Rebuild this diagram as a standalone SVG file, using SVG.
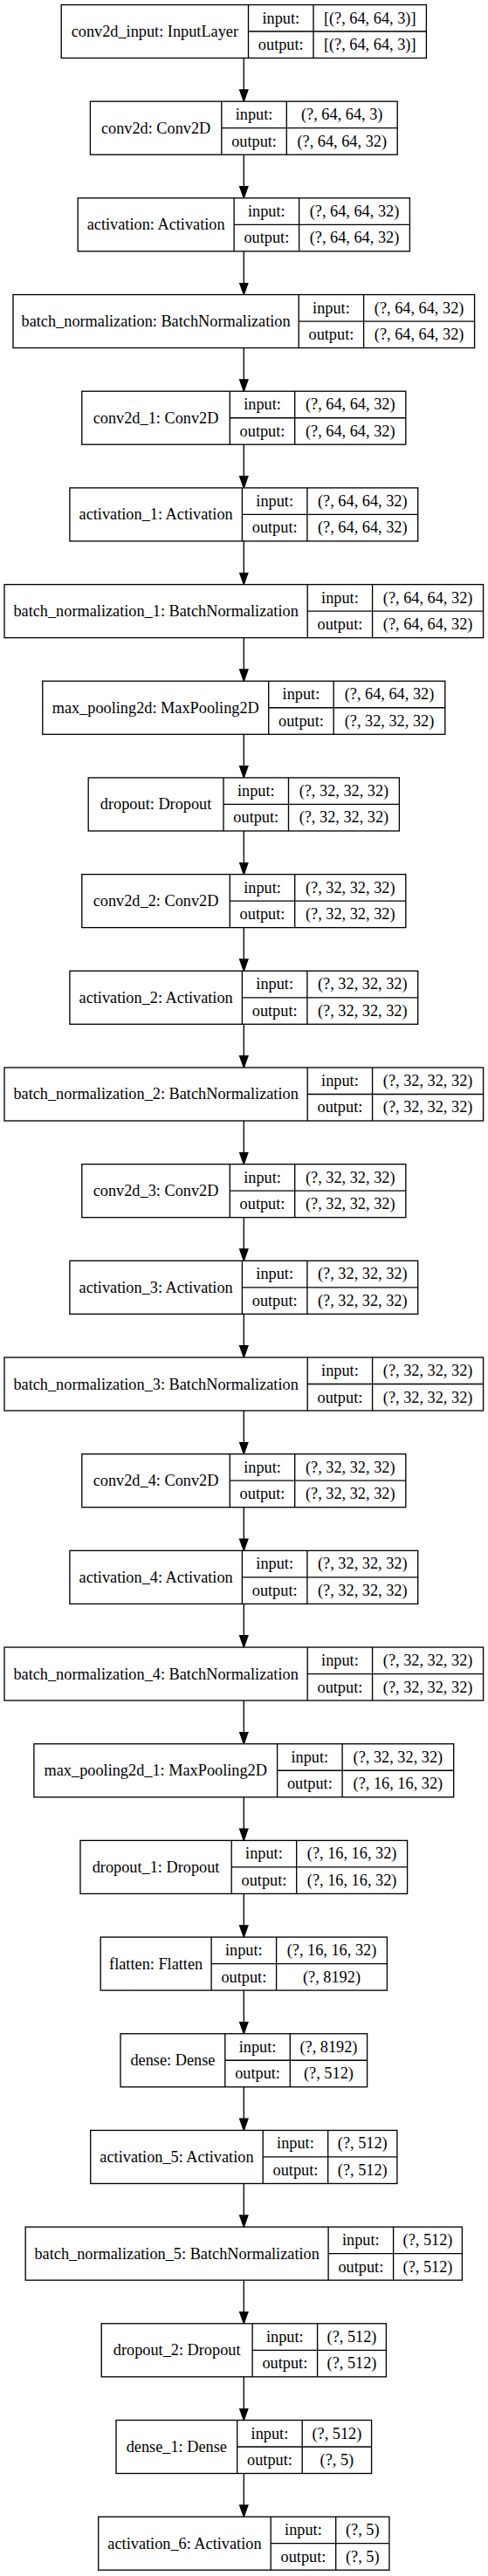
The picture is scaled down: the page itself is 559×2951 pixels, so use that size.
<svg xmlns="http://www.w3.org/2000/svg" width="559" height="2951" viewBox="0 0 559 2951">
<style>
.box{fill:#fff;stroke:#000;stroke-width:1.33}
.ln{stroke:#000;stroke-width:1.33;fill:none}
text{font-family:"Liberation Serif","Times New Roman",serif;font-size:18.3px;text-anchor:middle;fill:#000}
.edge{stroke:#000;stroke-width:1.33;fill:none;marker-end:url(#ah)}
</style>
<defs>
<marker id="ah" markerUnits="userSpaceOnUse" markerWidth="16" markerHeight="12" refX="14" refY="6" orient="auto" viewBox="0 0 16 12"><path d="M0.7,1.33 L14,6 L0.7,10.67 z" fill="#000" stroke="#000" stroke-width="1.33"/></marker>
</defs>
<rect x="0" y="0" width="559" height="2951" fill="#fff"/>
<g id="edges">
<line class="edge" x1="279.3" y1="66.5" x2="279.3" y2="116.18"/>
<line class="edge" x1="279.3" y1="177.18" x2="279.3" y2="226.86"/>
<line class="edge" x1="279.3" y1="287.86" x2="279.3" y2="337.54"/>
<line class="edge" x1="279.3" y1="398.54" x2="279.3" y2="448.22"/>
<line class="edge" x1="279.3" y1="509.22" x2="279.3" y2="558.9"/>
<line class="edge" x1="279.3" y1="619.9" x2="279.3" y2="669.58"/>
<line class="edge" x1="279.3" y1="730.58" x2="279.3" y2="780.26"/>
<line class="edge" x1="279.3" y1="841.26" x2="279.3" y2="890.94"/>
<line class="edge" x1="279.3" y1="951.94" x2="279.3" y2="1001.62"/>
<line class="edge" x1="279.3" y1="1062.62" x2="279.3" y2="1112.3"/>
<line class="edge" x1="279.3" y1="1173.3" x2="279.3" y2="1222.98"/>
<line class="edge" x1="279.3" y1="1283.98" x2="279.3" y2="1333.66"/>
<line class="edge" x1="279.3" y1="1394.66" x2="279.3" y2="1444.34"/>
<line class="edge" x1="279.3" y1="1505.34" x2="279.3" y2="1555.02"/>
<line class="edge" x1="279.3" y1="1616.02" x2="279.3" y2="1665.7"/>
<line class="edge" x1="279.3" y1="1726.7" x2="279.3" y2="1776.38"/>
<line class="edge" x1="279.3" y1="1837.38" x2="279.3" y2="1887.06"/>
<line class="edge" x1="279.3" y1="1948.06" x2="279.3" y2="1997.74"/>
<line class="edge" x1="279.3" y1="2058.74" x2="279.3" y2="2108.42"/>
<line class="edge" x1="279.3" y1="2169.42" x2="279.3" y2="2219.1"/>
<line class="edge" x1="279.3" y1="2280.1" x2="279.3" y2="2329.78"/>
<line class="edge" x1="279.3" y1="2390.78" x2="279.3" y2="2440.46"/>
<line class="edge" x1="279.3" y1="2501.46" x2="279.3" y2="2551.14"/>
<line class="edge" x1="279.3" y1="2612.14" x2="279.3" y2="2661.82"/>
<line class="edge" x1="279.3" y1="2722.82" x2="279.3" y2="2772.5"/>
<line class="edge" x1="279.3" y1="2833.5" x2="279.3" y2="2883.18"/>
</g>
<g id="n0" transform="translate(0,5.5)"><rect class="box" x="70.2" y="0" width="418.2" height="61"/><path class="ln" d="M284.5,0V61M359,0V61M284.5,30.5H488.4"/><text x="177.35" y="36.5">conv2d_input: InputLayer</text><text x="321.75" y="21">input:</text><text x="321.75" y="51.5">output:</text><text x="423.7" y="21">[(?, 64, 64, 3)]</text><text x="423.7" y="51.5">[(?, 64, 64, 3)]</text></g>
<g id="n1" transform="translate(0,116.18)"><rect class="box" x="103.4" y="0" width="351.8" height="61"/><path class="ln" d="M253.8,0V61M328.3,0V61M253.8,30.5H455.2"/><text x="178.6" y="36.5">conv2d: Conv2D</text><text x="291.05" y="21">input:</text><text x="291.05" y="51.5">output:</text><text x="391.75" y="21">(?, 64, 64, 3)</text><text x="391.75" y="51.5">(?, 64, 64, 32)</text></g>
<g id="n2" transform="translate(0,226.86)"><rect class="box" x="89.2" y="0" width="380.2" height="61"/><path class="ln" d="M268.1,0V61M342.6,0V61M268.1,30.5H469.4"/><text x="178.65" y="36.5">activation: Activation</text><text x="305.35" y="21">input:</text><text x="305.35" y="51.5">output:</text><text x="406" y="21">(?, 64, 64, 32)</text><text x="406" y="51.5">(?, 64, 64, 32)</text></g>
<g id="n3" transform="translate(0,337.54)"><rect class="box" x="15" y="0" width="528.6" height="61"/><path class="ln" d="M342.2,0V61M416.6,0V61M342.2,30.5H543.6"/><text x="178.6" y="36.5">batch_normalization: BatchNormalization</text><text x="379.4" y="21">input:</text><text x="379.4" y="51.5">output:</text><text x="480.1" y="21">(?, 64, 64, 32)</text><text x="480.1" y="51.5">(?, 64, 64, 32)</text></g>
<g id="n4" transform="translate(0,448.22)"><rect class="box" x="93.8" y="0" width="371" height="61"/><path class="ln" d="M263.3,0V61M337.7,0V61M263.3,30.5H464.8"/><text x="178.55" y="36.5">conv2d_1: Conv2D</text><text x="300.5" y="21">input:</text><text x="300.5" y="51.5">output:</text><text x="401.25" y="21">(?, 64, 64, 32)</text><text x="401.25" y="51.5">(?, 64, 64, 32)</text></g>
<g id="n5" transform="translate(0,558.9)"><rect class="box" x="79.9" y="0" width="398.8" height="61"/><path class="ln" d="M277.4,0V61M351.9,0V61M277.4,30.5H478.7"/><text x="178.65" y="36.5">activation_1: Activation</text><text x="314.65" y="21">input:</text><text x="314.65" y="51.5">output:</text><text x="415.3" y="21">(?, 64, 64, 32)</text><text x="415.3" y="51.5">(?, 64, 64, 32)</text></g>
<g id="n6" transform="translate(0,669.58)"><rect class="box" x="5" y="0" width="548.6" height="61"/><path class="ln" d="M352.2,0V61M426.6,0V61M352.2,30.5H553.6"/><text x="178.6" y="36.5">batch_normalization_1: BatchNormalization</text><text x="389.4" y="21">input:</text><text x="389.4" y="51.5">output:</text><text x="490.1" y="21">(?, 64, 64, 32)</text><text x="490.1" y="51.5">(?, 64, 64, 32)</text></g>
<g id="n7" transform="translate(0,780.26)"><rect class="box" x="48.8" y="0" width="461" height="61"/><path class="ln" d="M307.7,0V61M382.2,0V61M307.7,30.5H509.8"/><text x="178.25" y="36.5">max_pooling2d: MaxPooling2D</text><text x="344.95" y="21">input:</text><text x="344.95" y="51.5">output:</text><text x="446" y="21">(?, 64, 64, 32)</text><text x="446" y="51.5">(?, 32, 32, 32)</text></g>
<g id="n8" transform="translate(0,890.94)"><rect class="box" x="101.2" y="0" width="356.2" height="61"/><path class="ln" d="M256,0V61M330.5,0V61M256,30.5H457.4"/><text x="178.6" y="36.5">dropout: Dropout</text><text x="293.25" y="21">input:</text><text x="293.25" y="51.5">output:</text><text x="393.95" y="21">(?, 32, 32, 32)</text><text x="393.95" y="51.5">(?, 32, 32, 32)</text></g>
<g id="n9" transform="translate(0,1001.62)"><rect class="box" x="93.8" y="0" width="371" height="61"/><path class="ln" d="M263.3,0V61M337.7,0V61M263.3,30.5H464.8"/><text x="178.55" y="36.5">conv2d_2: Conv2D</text><text x="300.5" y="21">input:</text><text x="300.5" y="51.5">output:</text><text x="401.25" y="21">(?, 32, 32, 32)</text><text x="401.25" y="51.5">(?, 32, 32, 32)</text></g>
<g id="n10" transform="translate(0,1112.3)"><rect class="box" x="79.9" y="0" width="398.8" height="61"/><path class="ln" d="M277.4,0V61M351.9,0V61M277.4,30.5H478.7"/><text x="178.65" y="36.5">activation_2: Activation</text><text x="314.65" y="21">input:</text><text x="314.65" y="51.5">output:</text><text x="415.3" y="21">(?, 32, 32, 32)</text><text x="415.3" y="51.5">(?, 32, 32, 32)</text></g>
<g id="n11" transform="translate(0,1222.98)"><rect class="box" x="5" y="0" width="548.6" height="61"/><path class="ln" d="M352.2,0V61M426.6,0V61M352.2,30.5H553.6"/><text x="178.6" y="36.5">batch_normalization_2: BatchNormalization</text><text x="389.4" y="21">input:</text><text x="389.4" y="51.5">output:</text><text x="490.1" y="21">(?, 32, 32, 32)</text><text x="490.1" y="51.5">(?, 32, 32, 32)</text></g>
<g id="n12" transform="translate(0,1333.66)"><rect class="box" x="93.8" y="0" width="371" height="61"/><path class="ln" d="M263.3,0V61M337.7,0V61M263.3,30.5H464.8"/><text x="178.55" y="36.5">conv2d_3: Conv2D</text><text x="300.5" y="21">input:</text><text x="300.5" y="51.5">output:</text><text x="401.25" y="21">(?, 32, 32, 32)</text><text x="401.25" y="51.5">(?, 32, 32, 32)</text></g>
<g id="n13" transform="translate(0,1444.34)"><rect class="box" x="79.9" y="0" width="398.8" height="61"/><path class="ln" d="M277.4,0V61M351.9,0V61M277.4,30.5H478.7"/><text x="178.65" y="36.5">activation_3: Activation</text><text x="314.65" y="21">input:</text><text x="314.65" y="51.5">output:</text><text x="415.3" y="21">(?, 32, 32, 32)</text><text x="415.3" y="51.5">(?, 32, 32, 32)</text></g>
<g id="n14" transform="translate(0,1555.02)"><rect class="box" x="5" y="0" width="548.6" height="61"/><path class="ln" d="M352.2,0V61M426.6,0V61M352.2,30.5H553.6"/><text x="178.6" y="36.5">batch_normalization_3: BatchNormalization</text><text x="389.4" y="21">input:</text><text x="389.4" y="51.5">output:</text><text x="490.1" y="21">(?, 32, 32, 32)</text><text x="490.1" y="51.5">(?, 32, 32, 32)</text></g>
<g id="n15" transform="translate(0,1665.7)"><rect class="box" x="93.8" y="0" width="371" height="61"/><path class="ln" d="M263.3,0V61M337.7,0V61M263.3,30.5H464.8"/><text x="178.55" y="36.5">conv2d_4: Conv2D</text><text x="300.5" y="21">input:</text><text x="300.5" y="51.5">output:</text><text x="401.25" y="21">(?, 32, 32, 32)</text><text x="401.25" y="51.5">(?, 32, 32, 32)</text></g>
<g id="n16" transform="translate(0,1776.38)"><rect class="box" x="79.9" y="0" width="398.8" height="61"/><path class="ln" d="M277.4,0V61M351.9,0V61M277.4,30.5H478.7"/><text x="178.65" y="36.5">activation_4: Activation</text><text x="314.65" y="21">input:</text><text x="314.65" y="51.5">output:</text><text x="415.3" y="21">(?, 32, 32, 32)</text><text x="415.3" y="51.5">(?, 32, 32, 32)</text></g>
<g id="n17" transform="translate(0,1887.06)"><rect class="box" x="5" y="0" width="548.6" height="61"/><path class="ln" d="M352.2,0V61M426.6,0V61M352.2,30.5H553.6"/><text x="178.6" y="36.5">batch_normalization_4: BatchNormalization</text><text x="389.4" y="21">input:</text><text x="389.4" y="51.5">output:</text><text x="490.1" y="21">(?, 32, 32, 32)</text><text x="490.1" y="51.5">(?, 32, 32, 32)</text></g>
<g id="n18" transform="translate(0,1997.74)"><rect class="box" x="38.9" y="0" width="480.8" height="61"/><path class="ln" d="M317.6,0V61M392.1,0V61M317.6,30.5H519.7"/><text x="178.25" y="36.5">max_pooling2d_1: MaxPooling2D</text><text x="354.85" y="21">input:</text><text x="354.85" y="51.5">output:</text><text x="455.9" y="21">(?, 32, 32, 32)</text><text x="455.9" y="51.5">(?, 16, 16, 32)</text></g>
<g id="n19" transform="translate(0,2108.42)"><rect class="box" x="92" y="0" width="374.6" height="61"/><path class="ln" d="M265.2,0V61M339.7,0V61M265.2,30.5H466.6"/><text x="178.6" y="36.5">dropout_1: Dropout</text><text x="302.45" y="21">input:</text><text x="302.45" y="51.5">output:</text><text x="403.15" y="21">(?, 16, 16, 32)</text><text x="403.15" y="51.5">(?, 16, 16, 32)</text></g>
<g id="n20" transform="translate(0,2219.1)"><rect class="box" x="115.2" y="0" width="328.2" height="61"/><path class="ln" d="M242.1,0V61M316.6,0V61M242.1,30.5H443.4"/><text x="178.65" y="36.5">flatten: Flatten</text><text x="279.35" y="21">input:</text><text x="279.35" y="51.5">output:</text><text x="380" y="21">(?, 16, 16, 32)</text><text x="380" y="51.5">(?, 8192)</text></g>
<g id="n21" transform="translate(0,2329.78)"><rect class="box" x="138" y="0" width="282.6" height="61"/><path class="ln" d="M257.8,0V61M332.3,0V61M257.8,30.5H420.6"/><text x="197.9" y="36.5">dense: Dense</text><text x="295.05" y="21">input:</text><text x="295.05" y="51.5">output:</text><text x="376.45" y="21">(?, 8192)</text><text x="376.45" y="51.5">(?, 512)</text></g>
<g id="n22" transform="translate(0,2440.46)"><rect class="box" x="103.7" y="0" width="351.2" height="61"/><path class="ln" d="M301.2,0V61M375.7,0V61M301.2,30.5H454.9"/><text x="202.45" y="36.5">activation_5: Activation</text><text x="338.45" y="21">input:</text><text x="338.45" y="51.5">output:</text><text x="415.3" y="21">(?, 512)</text><text x="415.3" y="51.5">(?, 512)</text></g>
<g id="n23" transform="translate(0,2551.14)"><rect class="box" x="29.2" y="0" width="500.2" height="61"/><path class="ln" d="M376.1,0V61M450.6,0V61M376.1,30.5H529.4"/><text x="202.65" y="36.5">batch_normalization_5: BatchNormalization</text><text x="413.35" y="21">input:</text><text x="413.35" y="51.5">output:</text><text x="490" y="21">(?, 512)</text><text x="490" y="51.5">(?, 512)</text></g>
<g id="n24" transform="translate(0,2661.82)"><rect class="box" x="116.2" y="0" width="326.2" height="61"/><path class="ln" d="M289.1,0V61M363.6,0V61M289.1,30.5H442.4"/><text x="202.65" y="36.5">dropout_2: Dropout</text><text x="326.35" y="21">input:</text><text x="326.35" y="51.5">output:</text><text x="403" y="21">(?, 512)</text><text x="403" y="51.5">(?, 512)</text></g>
<g id="n25" transform="translate(0,2772.5)"><rect class="box" x="133" y="0" width="292.6" height="61"/><path class="ln" d="M271.7,0V61M346.2,0V61M271.7,30.5H425.6"/><text x="202.35" y="36.5">dense_1: Dense</text><text x="308.95" y="21">input:</text><text x="308.95" y="51.5">output:</text><text x="385.9" y="21">(?, 512)</text><text x="385.9" y="51.5">(?, 5)</text></g>
<g id="n26" transform="translate(0,2883.18)"><rect class="box" x="112.7" y="0" width="333.2" height="61"/><path class="ln" d="M310.2,0V61M384.7,0V61M310.2,30.5H445.9"/><text x="211.45" y="36.5">activation_6: Activation</text><text x="347.45" y="21">input:</text><text x="347.45" y="51.5">output:</text><text x="415.3" y="21">(?, 5)</text><text x="415.3" y="51.5">(?, 5)</text></g>
</svg>
